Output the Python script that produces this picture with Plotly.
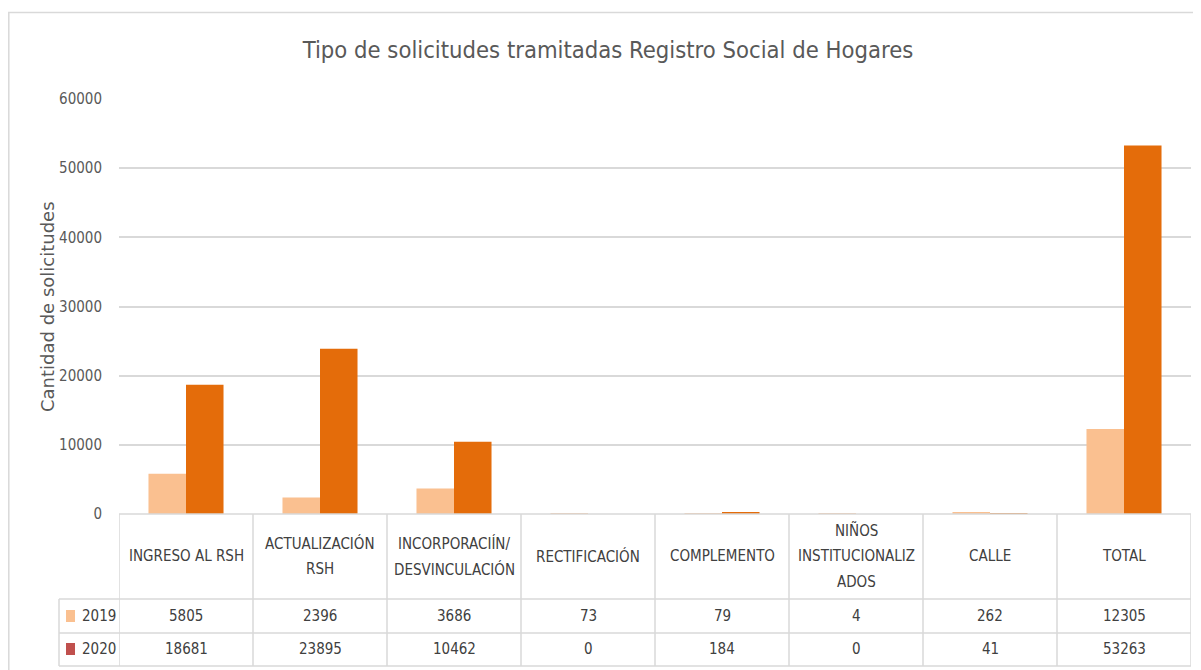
import plotly.graph_objects as go

categories = ["INGRESO AL RSH", "ACTUALIZACIÓN<br>RSH", "INCORPORACIÍN/<br>DESVINCULACIÓN",
              "RECTIFICACIÓN", "COMPLEMENTO", "NIÑOS<br>INSTITUCIONALIZ<br>ADOS", "CALLE", "TOTAL"]
series_names = ["2019", "2020"]
values_2019 = [5805, 2396, 3686, 73, 79, 4, 262, 12305]
values_2020 = [18681, 23895, 10462, 0, 184, 0, 41, 53263]
bar_colors = ["#FAC090", "#E46C0A"]
legend_colors = ["#FAC090", "#C0504D"]
y_ticks = [0, 10000, 20000, 30000, 40000, 50000, 60000]
title_text = "Tipo de solicitudes tramitadas Registro Social de Hogares"
y_title = "Cantidad de solicitudes"

OFF = 8  # default page margin of the html body
W, H = 1201 - OFF, 670 - OFF
L = 119 - OFF
R = 10
T = 99 - OFF
B = H - (514 - OFF)
PW = W - L - R
PH = H - T - B
FONT = "DejaVu Sans Condensed, Liberation Sans, sans-serif"
GRID = "#d9d9d9"
TXT = "#404040"


def px_x(x):
    return (x - OFF - L) / PW


def px_y(y):
    return (H - B - (y - OFF)) / PH


series_values = [values_2019, values_2020]
n = len(categories)
keys = [c.replace("<br>", " ") for c in categories]

fig = go.Figure()
for name, vals, col in zip(series_names, series_values, bar_colors):
    fig.add_trace(go.Bar(x=keys, y=vals, name=name, marker=dict(color=col, line=dict(width=0)),
                         showlegend=False))

shapes = []
annotations = []

# outer chart border
shapes.append(dict(type="rect", xref="paper", yref="paper", x0=px_x(8.8), x1=px_x(1210),
                   y0=px_y(680), y1=px_y(12.5), line=dict(color=GRID, width=1.5),
                   fillcolor="rgba(0,0,0,0)", layer="below"))

# table lines
row_lines = [514, 599, 633, 666]
for i, yy in enumerate(row_lines):
    shapes.append(dict(type="line", xref="paper", yref="paper",
                       x0=px_x(119 if i == 0 else 59), x1=1, y0=px_y(yy), y1=px_y(yy),
                       line=dict(color=GRID, width=1.5)))
for i in range(n + 1):
    shapes.append(dict(type="line", xref="x", yref="paper", x0=i - 0.5, x1=i - 0.5,
                       y0=px_y(514), y1=px_y(666), line=dict(color=GRID, width=1.5)))
shapes.append(dict(type="line", xref="paper", yref="paper", x0=px_x(59), x1=px_x(59),
                   y0=px_y(599), y1=px_y(666), line=dict(color=GRID, width=1.5)))

# header text, each line placed separately
line_gap = 26
for k, cat in zip(keys, categories):
    parts = cat.split("<br>")
    mid = 556
    start = mid - line_gap * (len(parts) - 1) / 2
    for j, p in enumerate(parts):
        annotations.append(dict(x=k, y=px_y(start + j * line_gap), xref="x", yref="paper",
                                text=p, showarrow=False, xanchor="center", yanchor="middle",
                                font=dict(family=FONT, size=15, color=TXT)))

# data rows
row_centers = [616, 649]
for name, vals, lc, yc in zip(series_names, series_values, legend_colors, row_centers):
    shapes.append(dict(type="rect", xref="paper", yref="paper", x0=px_x(66), x1=px_x(75),
                       y0=px_y(yc + 6), y1=px_y(yc - 6), fillcolor=lc, line=dict(width=0)))
    annotations.append(dict(x=px_x(80), y=px_y(yc), xref="paper", yref="paper", text=name,
                            showarrow=False, xanchor="left", yanchor="middle",
                            font=dict(family=FONT, size=15, color=TXT)))
    for k, v in zip(keys, vals):
        annotations.append(dict(x=k, y=px_y(yc), xref="x", yref="paper", text=str(v),
                                showarrow=False, xanchor="center", yanchor="middle",
                                font=dict(family=FONT, size=15, color=TXT)))

# y axis title
annotations.append(dict(x=px_x(47), y=px_y(307), xref="paper", yref="paper", text=y_title,
                        textangle=-90, showarrow=False, xanchor="center", yanchor="middle",
                        font=dict(family="DejaVu Sans, sans-serif", size=18, color="#595959")))

fig.update_layout(
    width=W, height=H,
    margin=dict(l=L, r=R, t=T, b=B, pad=0),
    paper_bgcolor="white", plot_bgcolor="white",
    barmode="group", bargap=0.44, bargroupgap=0,
    title=dict(text=title_text, x=(608 - OFF) / W, xref="container", xanchor="center",
               y=1 - (50 - OFF) / H, yref="container", yanchor="middle",
               font=dict(family=FONT, size=23.6, color="#595959")),
    xaxis=dict(type="category", range=[-0.5, n - 0.5], showticklabels=False, showgrid=False,
               zeroline=False, showline=False, ticks=""),
    yaxis=dict(range=[0, 60000], tickvals=y_ticks, ticktext=[str(t) for t in y_ticks],
               showgrid=True, gridcolor=GRID, gridwidth=1.5, zeroline=False, showline=False,
               ticks="", ticklabelstandoff=16,
               tickfont=dict(family=FONT, size=15, color="#595959")),
    shapes=shapes, annotations=annotations,
)

fig.write_html("out.html")
